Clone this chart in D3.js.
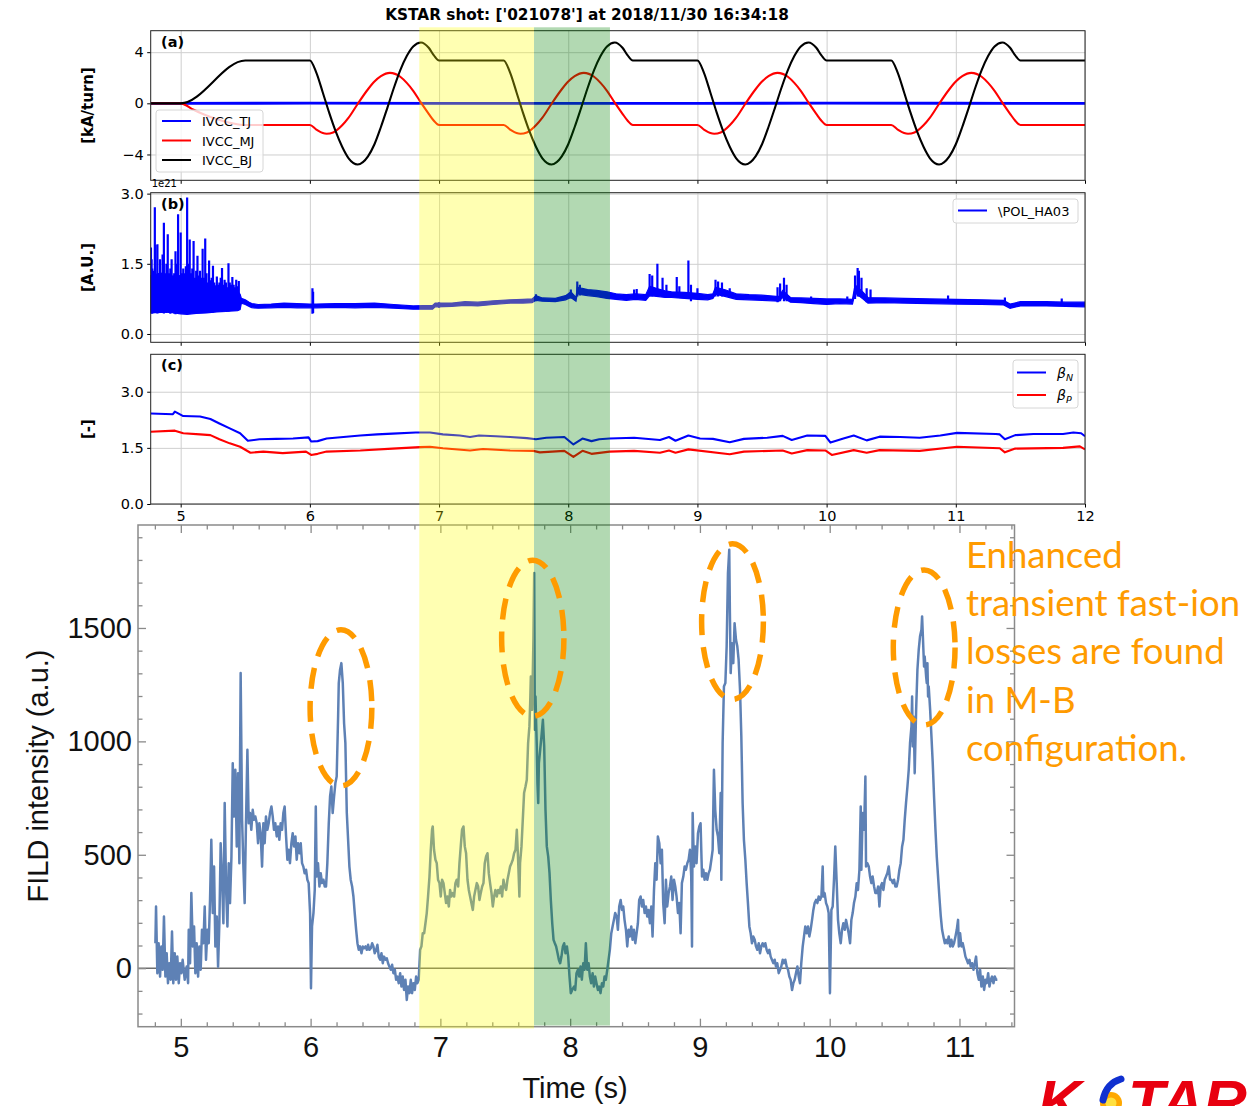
<!DOCTYPE html>
<html>
<head>
<meta charset="utf-8">
<script src="https://cdn.jsdelivr.net/npm/d3@7"></script>
<style>
  body { margin: 0; background: #fff; }
  svg { display: block; }
</style>
</head>
<body>
<div id="chart"></div>
<script>
// ---------- data ----------
var title = "KSTAR shot: ['021078'] at 2018/11/30 16:34:18";
var topTicks = [5, 6, 7, 8, 9, 10, 11, 12];

// (a) IVCC coil currents [kA/turn]
var ivccTJ = [[4.768, 0], [6, 0.01], [8, -0.01], [10, 0.01], [12, 0]];
var ivccMJ = [[4.768, 0], [5.0, 0], [5.1, -0.5], [5.2, -0.95], [5.3, -1.3], [5.4, -1.56], [5.5, -1.7], [6.0, -1.7],
  [6.05, -2.05], [6.1, -2.33], [6.13, -2.38], [6.18, -2.28], [6.25, -1.72], [6.3, -1.12], [6.37, -0.05], [6.45, 1.1], [6.5, 1.7], [6.55, 2.12], [6.62, 2.38], [6.7, 2.08], [6.75, 1.6], [6.8, 0.98], [6.86, 0.05], [6.92, -0.82], [6.96, -1.36], [7.0, -1.7], [7.5, -1.7],
  [7.55, -2.05], [7.6, -2.33], [7.63, -2.38], [7.68, -2.28], [7.75, -1.72], [7.8, -1.12], [7.87, -0.05], [7.95, 1.1], [8.0, 1.7], [8.05, 2.12], [8.12, 2.38], [8.2, 2.08], [8.25, 1.6], [8.3, 0.98], [8.36, 0.05], [8.42, -0.82], [8.46, -1.36], [8.5, -1.7], [9.0, -1.7],
  [9.05, -2.05], [9.1, -2.33], [9.13, -2.38], [9.18, -2.28], [9.25, -1.72], [9.3, -1.12], [9.37, -0.05], [9.45, 1.1], [9.5, 1.7], [9.55, 2.12], [9.62, 2.38], [9.7, 2.08], [9.75, 1.6], [9.8, 0.98], [9.86, 0.05], [9.92, -0.82], [9.96, -1.36], [10.0, -1.7], [10.5, -1.7],
  [10.55, -2.05], [10.6, -2.33], [10.63, -2.38], [10.68, -2.28], [10.75, -1.72], [10.8, -1.12], [10.87, -0.05], [10.95, 1.1], [11.0, 1.7], [11.05, 2.12], [11.12, 2.38], [11.2, 2.08], [11.25, 1.6], [11.3, 0.98], [11.36, 0.05], [11.42, -0.82], [11.46, -1.36], [11.5, -1.7], [12.0, -1.7]];
var ivccBJ = [[4.768, 0], [5.0, 0], [5.5, 3.35], [6.0, 3.35],
  [6.05, 2.4], [6.1, 0.85], [6.15, -0.75], [6.2, -2.2], [6.25, -3.4], [6.3, -4.3], [6.37, -4.78], [6.45, -4.15], [6.5, -3.2], [6.55, -1.85], [6.6, -0.35], [6.65, 1.2], [6.7, 2.6], [6.75, 3.7], [6.8, 4.45], [6.86, 4.76], [6.92, 4.35], [6.96, 3.75], [7.0, 3.35], [7.5, 3.35],
  [7.55, 2.4], [7.6, 0.85], [7.65, -0.75], [7.7, -2.2], [7.75, -3.4], [7.8, -4.3], [7.87, -4.78], [7.95, -4.15], [8.0, -3.2], [8.05, -1.85], [8.1, -0.35], [8.15, 1.2], [8.2, 2.6], [8.25, 3.7], [8.3, 4.45], [8.36, 4.76], [8.42, 4.35], [8.46, 3.75], [8.5, 3.35], [9.0, 3.35],
  [9.05, 2.4], [9.1, 0.85], [9.15, -0.75], [9.2, -2.2], [9.25, -3.4], [9.3, -4.3], [9.37, -4.78], [9.45, -4.15], [9.5, -3.2], [9.55, -1.85], [9.6, -0.35], [9.65, 1.2], [9.7, 2.6], [9.75, 3.7], [9.8, 4.45], [9.86, 4.76], [9.92, 4.35], [9.96, 3.75], [10.0, 3.35], [10.5, 3.35],
  [10.55, 2.4], [10.6, 0.85], [10.65, -0.75], [10.7, -2.2], [10.75, -3.4], [10.8, -4.3], [10.87, -4.78], [10.95, -4.15], [11.0, -3.2], [11.05, -1.85], [11.1, -0.35], [11.15, 1.2], [11.2, 2.6], [11.25, 3.7], [11.3, 4.45], [11.36, 4.76], [11.42, 4.35], [11.46, 3.75], [11.5, 3.35], [12.0, 3.35]];

// (b) \POL_HA03 [1e21 A.U.]: noise band [t, low, high] and spikes [t, low, high]
var haBand = [[4.768, 0.45, 1.25], [4.85, 0.46, 1.3], [4.9, 0.47, 1.22], [5.0, 0.43, 1.25], [5.05, 0.42, 1.2], [5.12, 0.44, 1.15], [5.2, 0.45, 1.08], [5.28, 0.47, 1.02], [5.35, 0.48, 0.98],
  [5.44, 0.5, 0.92], [5.46, 0.52, 0.85], [5.47, 0.66, 0.76], [5.5, 0.63, 0.73], [5.53, 0.59, 0.68],
  [5.55, 0.56, 0.65], [5.6, 0.55, 0.63], [5.7, 0.56, 0.64], [5.8, 0.57, 0.66], [5.9, 0.56, 0.65], [6.0, 0.56, 0.64], [6.05, 0.56, 0.64], [6.2, 0.57, 0.65], [6.35, 0.56, 0.65],
  [6.5, 0.57, 0.66], [6.65, 0.55, 0.63], [6.8, 0.53, 0.6], [6.95, 0.53, 0.61], [6.97, 0.58, 0.66], [7.1, 0.59, 0.66], [7.2, 0.61, 0.69], [7.3, 0.6, 0.68], [7.42, 0.63, 0.71],
  [7.55, 0.66, 0.73], [7.65, 0.66, 0.74], [7.72, 0.67, 0.75], [7.75, 0.72, 0.82], [7.8, 0.7, 0.77], [7.9, 0.69, 0.76], [7.98, 0.73, 0.82], [8.02, 0.78, 0.9], [8.06, 0.7, 0.78],
  [8.07, 0.86, 1.0], [8.1, 0.84, 0.98], [8.15, 0.82, 0.95], [8.22, 0.8, 0.93], [8.3, 0.76, 0.9], [8.37, 0.74, 0.86], [8.45, 0.72, 0.84], [8.52, 0.74, 0.86], [8.6, 0.72, 0.84],
  [8.63, 0.82, 1.02], [8.7, 0.8, 0.96], [8.75, 0.78, 0.92], [8.8, 0.78, 0.9], [8.9, 0.76, 0.89], [9.0, 0.74, 0.87], [9.08, 0.73, 0.84], [9.12, 0.76, 0.86], [9.14, 0.85, 1.0],
  [9.22, 0.8, 0.94], [9.3, 0.74, 0.86], [9.4, 0.73, 0.84], [9.5, 0.72, 0.83], [9.63, 0.7, 0.8], [9.66, 0.78, 0.93], [9.72, 0.68, 0.78], [9.8, 0.67, 0.77],
  [9.9, 0.65, 0.76], [10.0, 0.63, 0.75], [10.1, 0.65, 0.75], [10.2, 0.64, 0.74], [10.22, 0.88, 1.05], [10.28, 0.75, 0.9], [10.32, 0.66, 0.78], [10.45, 0.67, 0.77],
  [10.6, 0.66, 0.76], [10.8, 0.65, 0.75], [11.0, 0.64, 0.74], [11.2, 0.63, 0.73], [11.37, 0.62, 0.72], [11.42, 0.55, 0.64], [11.5, 0.6, 0.69], [11.7, 0.6, 0.69],
  [11.85, 0.59, 0.68], [12.0, 0.58, 0.68]];
var haSpikes = [[4.77, 0.45, 1.85], [4.775, 0.44, 1.6], [4.78, 0.44, 1.4], [4.79, 0.45, 1.35], [4.8, 0.45, 2.71], [4.805, 0.45, 1.9], [4.81, 0.46, 1.2], [4.82, 0.44, 1.92],
  [4.83, 0.45, 1.3], [4.84, 0.47, 1.6], [4.85, 0.45, 1.25], [4.86, 0.45, 1.7], [4.87, 0.44, 2.38], [4.88, 0.46, 1.3], [4.89, 0.45, 1.5], [4.9, 0.46, 2.13], [4.91, 0.45, 1.3],
  [4.92, 0.43, 1.4], [4.93, 0.45, 1.6], [4.94, 0.45, 1.25], [4.95, 0.44, 1.3], [4.96, 0.42, 1.77], [4.97, 0.45, 1.5], [4.98, 0.44, 2.56], [4.99, 0.45, 1.2], [5.0, 0.43, 2.17],
  [5.01, 0.44, 1.3], [5.02, 0.45, 1.4], [5.03, 0.44, 1.3], [5.04, 0.44, 1.45], [5.05, 0.42, 2.92], [5.06, 0.45, 1.5], [5.07, 0.44, 2.02], [5.08, 0.46, 1.3], [5.09, 0.45, 1.4],
  [5.1, 0.44, 1.99], [5.11, 0.45, 1.2], [5.12, 0.45, 1.35], [5.13, 0.45, 1.67], [5.14, 0.46, 1.25], [5.15, 0.46, 1.35], [5.16, 0.45, 1.2], [5.17, 0.45, 1.82], [5.18, 0.46, 1.2],
  [5.19, 0.45, 2.04], [5.2, 0.46, 1.3], [5.21, 0.47, 1.1], [5.22, 0.46, 1.57], [5.23, 0.47, 1.15], [5.24, 0.47, 1.2], [5.25, 0.46, 1.46], [5.26, 0.47, 1.1], [5.27, 0.48, 1.0],
  [5.28, 0.47, 1.23], [5.29, 0.47, 1.05], [5.3, 0.48, 1.1], [5.31, 0.48, 1.2], [5.32, 0.47, 1.41], [5.33, 0.48, 1.05], [5.34, 0.48, 1.16], [5.35, 0.48, 1.1], [5.36, 0.49, 1.0],
  [5.37, 0.48, 1.51], [5.38, 0.49, 1.1], [5.39, 0.49, 1.05], [5.4, 0.5, 1.22], [5.41, 0.5, 1.05], [5.42, 0.5, 1.0], [5.43, 0.5, 1.16], [5.44, 0.5, 1.02], [5.45, 0.51, 1.13],
  [6.02, 0.43, 0.98], [6.025, 0.45, 0.9], [7.0, 0.56, 0.68], [7.75, 0.7, 0.85], [8.02, 0.76, 0.95], [8.07, 0.8, 1.12], [8.09, 0.82, 1.05],
  [8.51, 0.75, 0.95], [8.53, 0.75, 0.96], [8.63, 0.8, 1.28], [8.65, 0.8, 1.25], [8.69, 0.8, 1.5], [8.73, 0.8, 1.2], [8.76, 0.8, 1.05],
  [8.84, 0.78, 1.22], [8.86, 0.78, 1.02], [8.93, 0.75, 1.57], [8.95, 0.7, 1.05], [9.0, 0.76, 0.98], [9.14, 0.8, 1.16], [9.16, 0.8, 1.12], [9.19, 0.8, 1.1], [9.25, 0.78, 0.98],
  [9.62, 0.68, 1.0], [9.64, 0.7, 1.08], [9.67, 0.7, 1.2], [9.69, 0.7, 1.05], [9.88, 0.66, 0.8], [10.16, 0.66, 0.8], [10.22, 0.75, 1.25], [10.24, 0.8, 1.41], [10.25, 0.8, 1.35],
  [10.27, 0.8, 1.2], [10.31, 0.68, 0.98], [10.34, 0.68, 0.95], [10.94, 0.66, 0.82], [11.38, 0.64, 0.78], [11.82, 0.6, 0.76]];

// (c) normalised and poloidal beta
var betaN = [[4.768, 2.42], [4.94, 2.4], [4.955, 2.47], [5.02, 2.35], [5.15, 2.34], [5.23, 2.27], [5.3, 2.15], [5.38, 2.02], [5.46, 1.89], [5.52, 1.69], [5.61, 1.73], [5.74, 1.74],
  [5.87, 1.75], [5.99, 1.78], [6.01, 1.67], [6.06, 1.68], [6.13, 1.75], [6.26, 1.79], [6.39, 1.83], [6.52, 1.86], [6.64, 1.88], [6.82, 1.91], [6.93, 1.91], [7.03, 1.86],
  [7.16, 1.83], [7.24, 1.79], [7.31, 1.83], [7.44, 1.81], [7.55, 1.79], [7.68, 1.76], [7.75, 1.73], [7.83, 1.77], [7.97, 1.79], [8.04, 1.59], [8.11, 1.75], [8.18, 1.68],
  [8.24, 1.73], [8.32, 1.75], [8.51, 1.77], [8.71, 1.71], [8.78, 1.79], [8.83, 1.69], [8.93, 1.83], [9.02, 1.75], [9.12, 1.74], [9.25, 1.65], [9.36, 1.74], [9.54, 1.77],
  [9.66, 1.82], [9.73, 1.71], [9.85, 1.83], [9.99, 1.82], [10.03, 1.64], [10.13, 1.75], [10.21, 1.83], [10.31, 1.7], [10.41, 1.8], [10.57, 1.79], [10.72, 1.77], [10.88, 1.83],
  [11.01, 1.9], [11.31, 1.87], [11.34, 1.86], [11.38, 1.73], [11.46, 1.84], [11.6, 1.87], [11.83, 1.87], [11.91, 1.91], [11.97, 1.89], [12.0, 1.81]];
var betaP = [[4.768, 1.93], [4.955, 1.96], [5.02, 1.89], [5.15, 1.86], [5.23, 1.84], [5.3, 1.73], [5.38, 1.62], [5.46, 1.53], [5.54, 1.37], [5.64, 1.4], [5.79, 1.36], [5.97, 1.4],
  [6.01, 1.31], [6.06, 1.34], [6.13, 1.4], [6.39, 1.43], [6.64, 1.48], [6.85, 1.52], [6.93, 1.53], [7.03, 1.49], [7.24, 1.43], [7.34, 1.47], [7.55, 1.43], [7.73, 1.42],
  [7.78, 1.38], [7.97, 1.42], [8.04, 1.26], [8.11, 1.42], [8.18, 1.34], [8.32, 1.4], [8.51, 1.42], [8.71, 1.37], [8.78, 1.43], [8.83, 1.37], [8.93, 1.46], [9.25, 1.33],
  [9.36, 1.4], [9.66, 1.43], [9.73, 1.35], [9.85, 1.44], [9.99, 1.43], [10.04, 1.31], [10.21, 1.44], [10.31, 1.37], [10.41, 1.44], [10.72, 1.42], [11.01, 1.53],
  [11.34, 1.49], [11.38, 1.38], [11.46, 1.48], [11.83, 1.5], [11.96, 1.54], [12.0, 1.46]];

// bottom: FILD intensity (a.u.) vs time (s)
var fildTicks = [5, 6, 7, 8, 9, 10, 11];
var fildYTicks = [0, 500, 1000, 1500];
var fild = [[4.804,110],[4.809,272],[4.819,-22],[4.829,110],[4.840,-37],[4.850,96],[4.860,-7],[4.870,228],[4.881,-37],[4.891,66],[4.901,-66],[4.911,22],[4.922,-51],[4.932,162],[4.942,-66],[4.953,66],[4.963,-51],[4.973,51],[4.984,-66],[4.994,22],[5.004,-22],[5.014,37],[5.030,-51],[5.045,7],[5.056,-66],[5.061,169],[5.071,22],[5.081,331],[5.092,96],[5.102,184],[5.112,-22],[5.122,110],[5.133,-37],[5.143,96],[5.153,-7],[5.163,169],[5.174,110],[5.184,272],[5.194,37],[5.205,169],[5.215,110],[5.225,301],[5.235,566],[5.246,243],[5.256,448],[5.266,96],[5.277,228],[5.287,7],[5.297,198],[5.307,551],[5.318,390],[5.328,198],[5.338,728],[5.349,345],[5.359,184],[5.369,463],[5.379,287],[5.390,492],[5.400,904],[5.410,669],[5.420,875],[5.431,537],[5.441,860],[5.451,463],[5.461,1301],[5.472,654],[5.482,448],[5.492,287],[5.502,639],[5.513,963],[5.523,639],[5.533,684],[5.543,610],[5.554,698],[5.564,654],[5.574,669],[5.585,639],[5.595,551],[5.605,639],[5.615,595],[5.626,448],[5.636,639],[5.646,551],[5.656,669],[5.667,610],[5.677,639],[5.687,684],[5.698,713],[5.708,669],[5.718,610],[5.728,639],[5.739,581],[5.749,625],[5.759,566],[5.769,639],[5.780,610],[5.790,684],[5.800,713],[5.811,581],[5.821,478],[5.831,522],[5.841,463],[5.852,551],[5.862,595],[5.872,537],[5.883,581],[5.893,478],[5.903,551],[5.913,507],[5.924,551],[5.934,463],[5.944,448],[5.954,419],[5.965,434],[5.975,390],[5.985,375],[5.996,243],[6.003,-88],[6.011,184],[6.022,243],[6.032,345],[6.040,713],[6.047,404],[6.057,463],[6.068,360],[6.078,419],[6.088,375],[6.099,390],[6.109,360],[6.119,360],[6.129,463],[6.140,639],[6.150,757],[6.160,801],[6.170,684],[6.181,757],[6.191,816],[6.201,845],[6.212,1110],[6.217,1257],[6.227,1316],[6.237,1345],[6.248,1257],[6.258,1080],[6.268,992],[6.279,684],[6.289,566],[6.299,448],[6.309,390],[6.320,360],[6.330,316],[6.340,243],[6.351,169],[6.361,110],[6.371,81],[6.381,96],[6.392,66],[6.402,96],[6.412,88],[6.423,96],[6.433,81],[6.443,103],[6.453,81],[6.464,88],[6.474,110],[6.484,96],[6.494,66],[6.505,81],[6.515,103],[6.525,51],[6.536,37],[6.546,66],[6.556,22],[6.566,51],[6.577,37],[6.587,44],[6.597,22],[6.607,7],[6.618,-7],[6.628,15],[6.638,-22],[6.649,-7],[6.659,-51],[6.669,-37],[6.679,-66],[6.690,-22],[6.700,-81],[6.710,-37],[6.720,-96],[6.731,-51],[6.741,-140],[6.751,-81],[6.762,-110],[6.772,-51],[6.782,-110],[6.792,-66],[6.803,-96],[6.813,-37],[6.823,-66],[6.833,-51],[6.844,81],[6.854,96],[6.864,154],[6.875,154],[6.885,198],[6.895,243],[6.905,316],[6.916,404],[6.926,522],[6.936,610],[6.941,625],[6.951,522],[6.962,478],[6.972,463],[6.982,390],[6.993,375],[7.003,316],[7.013,390],[7.024,375],[7.034,331],[7.044,287],[7.054,316],[7.065,272],[7.075,345],[7.085,316],[7.096,331],[7.106,316],[7.116,375],[7.126,390],[7.137,360],[7.147,463],[7.157,537],[7.167,610],[7.178,625],[7.188,537],[7.198,507],[7.209,390],[7.219,345],[7.229,316],[7.239,287],[7.250,257],[7.260,316],[7.270,345],[7.281,375],[7.291,360],[7.301,301],[7.311,331],[7.322,360],[7.332,375],[7.342,463],[7.352,492],[7.363,507],[7.373,419],[7.383,375],[7.394,331],[7.404,272],[7.414,316],[7.424,345],[7.435,316],[7.445,345],[7.455,331],[7.466,360],[7.476,316],[7.486,390],[7.496,360],[7.507,345],[7.517,390],[7.527,419],[7.537,448],[7.548,463],[7.558,478],[7.568,507],[7.579,522],[7.589,610],[7.599,478],[7.609,316],[7.614,463],[7.625,537],[7.635,654],[7.645,772],[7.656,801],[7.666,831],[7.676,992],[7.686,1066],[7.692,1169],[7.697,1286],[7.707,1139],[7.717,1448],[7.723,1742],[7.728,1051],[7.733,1198],[7.738,1080],[7.743,978],[7.748,816],[7.754,728],[7.759,904],[7.769,963],[7.779,1022],[7.790,1095],[7.800,978],[7.810,698],[7.820,537],[7.831,492],[7.841,419],[7.851,301],[7.862,198],[7.872,125],[7.882,110],[7.892,96],[7.903,66],[7.913,37],[7.923,22],[7.933,51],[7.944,96],[7.954,110],[7.964,66],[7.975,96],[7.985,51],[7.995,-37],[8.005,-110],[8.016,-96],[8.030,-81],
  [8.039,-96],[8.049,-22],[8.060,-7],[8.070,-37],[8.080,7],[8.090,-51],[8.101,22],[8.111,-7],[8.121,110],[8.132,-7],[8.142,22],[8.152,-37],[8.162,-66],[8.173,-22],[8.183,-81],[8.193,-37],[8.203,-66],[8.214,-96],[8.224,-81],[8.234,-110],[8.245,-66],[8.255,-81],[8.265,-37],[8.275,-51],[8.286,-7],[8.296,37],[8.306,81],[8.317,154],[8.327,184],[8.337,213],[8.347,243],[8.358,228],[8.368,169],[8.378,272],[8.389,301],[8.399,257],[8.409,272],[8.419,213],[8.430,169],[8.440,96],[8.450,169],[8.460,140],[8.471,184],[8.481,125],[8.491,169],[8.502,110],[8.512,154],[8.522,198],[8.532,301],[8.543,316],[8.553,272],[8.563,301],[8.574,243],[8.584,272],[8.594,228],[8.604,257],[8.615,198],[8.625,272],[8.635,140],[8.646,345],[8.656,463],[8.666,390],[8.676,581],[8.687,551],[8.697,463],[8.707,522],[8.717,287],[8.728,198],[8.738,390],[8.748,272],[8.759,331],[8.769,360],[8.779,404],[8.789,301],[8.800,390],[8.810,360],[8.820,316],[8.831,243],[8.841,287],[8.851,154],[8.861,375],[8.872,404],[8.882,448],[8.892,434],[8.903,463],[8.913,478],[8.923,522],[8.933,404],[8.939,96],[8.944,684],[8.954,448],[8.964,537],[8.974,463],[8.985,595],[8.995,625],[9.005,639],[9.016,404],[9.026,434],[9.036,390],[9.046,419],[9.057,390],[9.067,419],[9.077,434],[9.088,478],[9.098,522],[9.108,875],[9.118,698],[9.129,610],[9.139,581],[9.149,507],[9.160,772],[9.165,390],[9.175,992],[9.185,1242],[9.196,1257],[9.206,1419],[9.216,1742],[9.226,1845],[9.231,1566],[9.237,1301],[9.247,1433],[9.257,1345],[9.267,1521],[9.278,1448],[9.288,1419],[9.298,1360],[9.309,1227],[9.319,1022],[9.329,728],[9.339,566],[9.350,478],[9.360,375],[9.370,287],[9.381,184],[9.391,154],[9.401,110],[9.411,140],[9.422,125],[9.432,96],[9.442,81],[9.453,110],[9.463,66],[9.473,96],[9.483,110],[9.494,96],[9.504,110],[9.514,81],[9.525,66],[9.535,81],[9.545,51],[9.555,37],[9.566,22],[9.576,37],[9.586,7],[9.596,22],[9.607,-22],[9.617,-7],[9.627,7],[9.638,37],[9.648,22],[9.658,37],[9.668,7],[9.679,-7],[9.689,-37],[9.699,-51],[9.710,-96],[9.720,-66],[9.730,-51],[9.740,-22],[9.751,7],[9.761,-37],[9.771,-66],[9.781,22],[9.792,96],[9.802,140],[9.812,184],[9.823,154],[9.833,184],[9.843,140],[9.853,169],[9.864,213],[9.874,257],[9.884,287],[9.895,301],[9.905,287],[9.915,316],[9.925,301],[9.936,316],[9.946,448],[9.951,316],[9.961,331],[9.972,287],[9.982,272],[9.992,243],[10.002,-110],[10.013,257],[10.023,272],[10.033,390],[10.043,537],[10.054,375],[10.064,213],[10.074,154],[10.085,110],[10.095,169],[10.105,198],[10.116,169],[10.126,213],[10.136,184],[10.146,154],[10.157,110],[10.167,213],[10.177,243],[10.187,287],[10.198,316],[10.208,375],[10.218,345],[10.229,434],[10.239,713],[10.244,434],[10.254,684],[10.265,610],[10.275,845],[10.280,448],[10.290,463],[10.301,448],[10.311,404],[10.321,375],[10.331,404],[10.342,360],[10.352,331],[10.362,331],[10.373,360],[10.383,272],[10.393,360],[10.403,375],[10.414,345],[10.424,390],[10.434,404],[10.444,419],[10.455,448],[10.465,390],[10.475,390],[10.486,375],[10.496,390],[10.506,360],[10.516,360],[10.527,390],[10.537,434],[10.547,463],[10.558,537],[10.568,566],[10.578,654],[10.588,728],[10.599,801],[10.609,875],[10.619,992],[10.630,1066],[10.635,1198],[10.640,978],[10.645,1110],[10.650,1022],[10.655,860],[10.666,1139],[10.676,1316],[10.686,1404],[10.696,1463],[10.707,1492],[10.712,1551],[10.722,1404],[10.727,1330],[10.732,1374],[10.743,1286],[10.748,1257],[10.753,1345],[10.758,1198],[10.763,1242],[10.774,1139],[10.784,1022],[10.794,904],[10.804,757],[10.815,610],[10.825,492],[10.835,404],[10.845,316],[10.856,228],[10.866,169],[10.876,140],[10.887,110],[10.897,125],[10.907,110],[10.917,140],[10.928,96],[10.938,125],[10.948,96],[10.958,110],[10.969,140],[10.979,169],[10.989,213],[10.995,96],[11.005,154],[11.015,96],[11.025,110],[11.036,81],[11.046,51],[11.056,37],[11.066,22],[11.077,37],[11.087,7],[11.097,22],[11.108,-7],[11.118,22],[11.128,51],[11.138,-22],[11.149,-51],[11.159,-7],[11.169,-81],[11.180,-37],[11.190,-96],[11.200,-51],[11.210,-66],[11.221,-22],[11.231,-81],[11.241,-51],[11.251,-37],[11.262,-66],[11.272,-37],[11.282,-51],[11.292,-51]];

// highlighted time windows and dashed-ellipse annotations [t, value, half-width s, half-height]
var spanStart = [6.847, 7.735];
var spanEnd = [7.735, 8.323];
var spanColor = ["rgb(255,255,0)", "rgb(0,128,0)"];
var lossMarks = [[6.234, 1148, 0.238, 344], [7.712, 1455, 0.240, 344], [9.251, 1528, 0.238, 343], [10.728, 1414, 0.238, 342]];
var noteLines = ["Enhanced", "transient fast-ion", "losses are found", "in M-B", "configuration."];

// ---------- drawing ----------
var W = 1256, H = 1106;
var svg = d3.select("#chart").append("svg")
  .attr("width", W).attr("height", H)
  .attr("font-family", "'DejaVu Sans', sans-serif");

var x = d3.scaleLinear().domain([4.768, 12]).range([150.7, 1085]);
var L = 150.7, R = 1085;

var panels = [
  { id: "a", y: d3.scaleLinear().domain([-6.02, 5.68]).range([180.3, 30.7]), ticks: [-4, 0, 4],
    fmt: function(d) { return d < 0 ? "\u2212" + Math.abs(d) : String(d); }, label: "[kA/turn]" },
  { id: "b", y: d3.scaleLinear().domain([-0.178, 3.02]).range([342.3, 192.7]), ticks: [0, 1.5, 3],
    fmt: d3.format(".1f"), label: "[A.U.]" },
  { id: "c", y: d3.scaleLinear().domain([0, 4]).range([504, 354.3]), ticks: [0, 1.5, 3],
    fmt: d3.format(".1f"), label: "[-]" }
];

var lineGen = function(y, curve) {
  return d3.line().x(function(d) { return x(d[0]); }).y(function(d) { return y(d[1]); })
    .curve(curve || d3.curveLinear);
};

function mplAxis(s) {
  s.select(".domain").remove();
  s.selectAll("text").attr("font-size", 14.5).attr("font-family", "'DejaVu Sans', sans-serif").attr("fill", "#000");
  s.selectAll("line").attr("stroke", "#000");
}

panels.forEach(function(p) {
  var top = p.y.range()[1], bot = p.y.range()[0];
  var g = svg.append("g").attr("class", "panel-" + p.id);

  g.append("clipPath").attr("id", "clip-" + p.id)
    .append("rect").attr("x", L).attr("y", top).attr("width", R - L).attr("height", bot - top);

  // grid
  g.append("g").attr("transform", "translate(0," + bot + ")")
    .call(d3.axisBottom(x).tickValues(topTicks).tickSize(-(bot - top)).tickFormat(""))
    .call(function(s) { s.select(".domain").remove(); s.selectAll("line").attr("stroke", "#cfcfcf"); });
  g.append("g").attr("transform", "translate(" + L + ",0)")
    .call(d3.axisLeft(p.y).tickValues(p.ticks).tickSize(-(R - L)).tickFormat(""))
    .call(function(s) { s.select(".domain").remove(); s.selectAll("line").attr("stroke", "#cfcfcf"); });

  p.plot = g.append("g").attr("clip-path", "url(#clip-" + p.id + ")");

  // axes
  g.append("g").attr("transform", "translate(" + L + ",0)")
    .call(d3.axisLeft(p.y).tickValues(p.ticks).tickSize(3.5).tickPadding(3.5).tickFormat(p.fmt))
    .call(mplAxis);
  g.append("g").attr("transform", "translate(0," + bot + ")")
    .call(d3.axisBottom(x).tickValues(topTicks).tickSize(3.5).tickPadding(3.5)
      .tickFormat(p.id === "c" ? d3.format("d") : ""))
    .call(mplAxis);

  p.frame = function() {
    g.append("rect").attr("x", L).attr("y", top).attr("width", R - L).attr("height", bot - top)
      .attr("fill", "none").attr("stroke", "#222").attr("stroke-width", 1);
    g.append("text").attr("x", 161).attr("y", top + 16).attr("font-size", 14.5).attr("font-weight", "bold")
      .text("(" + p.id + ")");
    g.append("text").attr("transform", "translate(93," + ((top + bot) / 2) + ") rotate(-90)")
      .attr("text-anchor", "middle").attr("font-size", 15).attr("font-weight", "bold").text(p.label);
  };
  p.g = g;
});

// (a)
var pa = panels[0];
[[ivccTJ, "#0000ff", 2.8], [ivccMJ, "#ff0000", 2.1], [ivccBJ, "#000000", 2.1]].forEach(function(s) {
  pa.plot.append("path").datum(s[0]).attr("fill", "none").attr("stroke", s[1]).attr("stroke-width", s[2])
    .attr("stroke-linejoin", "round").attr("d", lineGen(pa.y, d3.curveMonotoneX));
});
pa.frame();

// (b)
var pb = panels[1];
pb.plot.append("path").datum(haBand).attr("fill", "#0000ff").attr("stroke", "#0000ff").attr("stroke-width", 1.2)
  .attr("d", d3.area().x(function(d) { return x(d[0]); }).y0(function(d) { return pb.y(d[1]); }).y1(function(d) { return pb.y(d[2]); }));
pb.plot.selectAll("line.spike").data(haSpikes).join("line").attr("class", "spike")
  .attr("x1", function(d) { return x(d[0]); }).attr("x2", function(d) { return x(d[0]); })
  .attr("y1", function(d) { return pb.y(d[1]); }).attr("y2", function(d) { return pb.y(d[2]); })
  .attr("stroke", "#0000ff").attr("stroke-width", 2.2);
pb.frame();
pb.g.append("text").attr("x", 151.7).attr("y", 187).attr("font-size", 10).text("1e21");

// (c)
var pc = panels[2];
[[betaN, "#0000ff"], [betaP, "#ff0000"]].forEach(function(s) {
  pc.plot.append("path").datum(s[0]).attr("fill", "none").attr("stroke", s[1]).attr("stroke-width", 2.1)
    .attr("stroke-linejoin", "round").attr("d", lineGen(pc.y));
});
pc.frame();

// legends
function legend(box, rows) {
  var g = svg.append("g");
  g.append("rect").attr("x", box[0]).attr("y", box[1]).attr("width", box[2]).attr("height", box[3])
    .attr("rx", 3).attr("fill", "#fff").attr("fill-opacity", 0.8).attr("stroke", "#d6d6d6");
  rows.forEach(function(r) {
    g.append("line").attr("x1", r.x0).attr("x2", r.x0 + 29).attr("y1", r.y).attr("y2", r.y)
      .attr("stroke", r.color).attr("stroke-width", 2);
    var t = g.append("text").attr("x", r.x0 + 40).attr("y", r.y + 5).attr("font-size", 13);
    if (r.sub) {
      t.attr("font-size", 14);
      t.append("tspan").attr("font-style", "italic").text(r.label);
      t.append("tspan").attr("font-style", "italic").attr("font-size", 9.5).attr("dy", 3).text(r.sub);
    } else {
      t.text(r.label);
    }
  });
}
legend([156, 110, 107, 62], [
  { x0: 162, y: 121, color: "#0000ff", label: "IVCC_TJ" },
  { x0: 162, y: 140.5, color: "#ff0000", label: "IVCC_MJ" },
  { x0: 162, y: 160, color: "#000000", label: "IVCC_BJ" }]);
legend([953, 199, 125, 24], [{ x0: 958, y: 210.5, color: "#0000ff", label: "\\POL_HA03" }]);
legend([1013, 360, 65, 48], [
  { x0: 1017, y: 372.5, color: "#0000ff", label: "\u03b2", sub: "N" },
  { x0: 1017, y: 395, color: "#ff0000", label: "\u03b2", sub: "P" }]);

svg.append("text").attr("x", 587).attr("y", 20).attr("text-anchor", "middle")
  .attr("font-size", 15.3).attr("font-weight", "bold").text(title);

// ---------- bottom FILD panel ----------
var bx = d3.scaleLinear().domain([4.67, 11.424]).range([138, 1014.5]);
var by = d3.scaleLinear().domain([-258, 1954]).range([1026.7, 525]);
var BL = 138, BR = 1014.5, BT = 525, BB = 1026.7;
var frameCol = "#8a8a8a";
var sansFont = "'Liberation Sans', Arial, sans-serif";
var bot = svg.append("g").attr("font-family", sansFont);

bot.append("clipPath").attr("id", "clip-fild")
  .append("rect").attr("x", BL).attr("y", BT).attr("width", BR - BL).attr("height", BB - BT);

bot.append("line").attr("x1", BL).attr("x2", BR).attr("y1", by(0)).attr("y2", by(0))
  .attr("stroke", "#6e6e6e").attr("stroke-width", 1.6);

bot.append("path").datum(fild).attr("clip-path", "url(#clip-fild)")
  .attr("fill", "none").attr("stroke", "#5e81b5").attr("stroke-width", 2.5).attr("stroke-linejoin", "round")
  .attr("d", d3.line().x(function(d) { return bx(d[0]); }).y(function(d) { return by(d[1]); }));

var minorX = d3.range(4.8, 11.41, 0.2).filter(function(t) { return Math.abs(t - Math.round(t)) > 0.01; });
var minorY = d3.range(-200, 1901, 100).filter(function(v) { return v % 500 !== 0; });

function styleAxis(s) {
  s.select(".domain").remove();
  s.selectAll("line").attr("stroke", frameCol).attr("stroke-width", 1.3);
  s.selectAll("text").attr("font-size", 29).attr("font-family", sansFont).attr("fill", "#111");
}
bot.append("g").attr("transform", "translate(0," + BB + ")")
  .call(d3.axisBottom(bx).tickValues(fildTicks).tickSize(-8).tickPadding(10).tickFormat(d3.format("d"))).call(styleAxis);
bot.append("g").attr("transform", "translate(0," + BB + ")")
  .call(d3.axisBottom(bx).tickValues(minorX).tickSize(-4.5).tickFormat("")).call(styleAxis);
bot.append("g").attr("transform", "translate(0," + BT + ")")
  .call(d3.axisTop(bx).tickValues(fildTicks).tickSize(-8).tickFormat("")).call(styleAxis);
bot.append("g").attr("transform", "translate(0," + BT + ")")
  .call(d3.axisTop(bx).tickValues(minorX).tickSize(-4.5).tickFormat("")).call(styleAxis);
bot.append("g").attr("transform", "translate(" + BL + ",0)")
  .call(d3.axisLeft(by).tickValues(fildYTicks).tickSize(-8).tickPadding(6).tickFormat(d3.format("d"))).call(styleAxis);
bot.append("g").attr("transform", "translate(" + BL + ",0)")
  .call(d3.axisLeft(by).tickValues(minorY).tickSize(-4.5).tickFormat("")).call(styleAxis);
bot.append("g").attr("transform", "translate(" + BR + ",0)")
  .call(d3.axisRight(by).tickValues(fildYTicks).tickSize(-8).tickFormat("")).call(styleAxis);
bot.append("g").attr("transform", "translate(" + BR + ",0)")
  .call(d3.axisRight(by).tickValues(minorY).tickSize(-4.5).tickFormat("")).call(styleAxis);

bot.append("rect").attr("x", BL).attr("y", BT).attr("width", BR - BL).attr("height", BB - BT)
  .attr("fill", "none").attr("stroke", frameCol).attr("stroke-width", 1.5);

bot.append("text").attr("x", 575).attr("y", 1098).attr("text-anchor", "middle").attr("font-size", 29)
  .attr("fill", "#111").text("Time (s)");
bot.append("text").attr("transform", "translate(48,776) rotate(-90)").attr("text-anchor", "middle")
  .attr("font-size", 29).attr("fill", "#111").text("FILD intensity (a.u.)");

// ---------- shaded time windows across all panels ----------
svg.append("g").selectAll("rect").data(spanStart).join("rect")
  .attr("x", function(d) { return x(d); })
  .attr("width", function(d, i) { return x(spanEnd[i]) - x(d); })
  .attr("y", 27.3)
  .attr("height", function(d, i) { return (i === 0 ? 1028.5 : 1025.5) - 27.3; })
  .attr("fill", function(d, i) { return spanColor[i]; })
  .attr("fill-opacity", 0.3);

// ---------- annotations ----------
var orange = "#ff9b00";
svg.append("g").selectAll("ellipse").data(lossMarks).join("ellipse")
  .attr("cx", function(d) { return bx(d[0]); })
  .attr("cy", function(d) { return by(d[1]); })
  .attr("rx", function(d) { return bx(d[0] + d[2]) - bx(d[0]); })
  .attr("ry", function(d) { return by(d[1] - d[3]) - by(d[1]); })
  .attr("fill", "none").attr("stroke", orange).attr("stroke-width", 5.5).attr("stroke-dasharray", "21 12");

svg.append("g").selectAll("text").data(noteLines).join("text")
  .attr("x", 966).attr("y", function(d, i) { return 568 + i * 48.2; })
  .attr("font-family", "Lato, 'Open Sans', sans-serif").attr("font-size", 36.5).attr("fill", orange)
  .text(function(d) { return d; });

// KSTAR logo (cropped at the bottom edge, as in the reference)
var logo = svg.append("g").attr("font-family", sansFont)
  .attr("font-weight", "bold").attr("font-style", "italic").attr("fill", "#e8000f");
logo.append("text").attr("x", 1038).attr("y", 1122).attr("font-size", 60).text("K");
logo.append("text").attr("x", 1128).attr("y", 1122).attr("font-size", 60).text("TAR");
logo.append("circle").attr("cx", 1111).attr("cy", 1103).attr("r", 11).attr("fill", "#ffa800");
logo.append("circle").attr("cx", 1111).attr("cy", 1103).attr("r", 5.5).attr("fill", "#ffe040");
logo.append("path").attr("d", "M1103,1100 C1105,1090 1111,1082 1121,1079").attr("fill", "none")
  .attr("stroke", "#1030d0").attr("stroke-width", 7).attr("stroke-linecap", "round");
</script>
</body>
</html>
